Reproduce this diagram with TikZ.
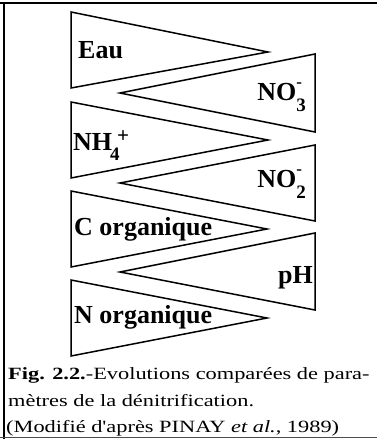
\documentclass[tikz,border=0pt]{standalone}
\usepackage{fontspec}
\setmainfont{Liberation Serif}
\newfontfamily\capfont[FakeStretch=1.3]{Liberation Serif}
\newcommand\fs[1]{\fontsize{#1}{#1}\selectfont}
\newcommand\subsup[4]{\makebox[0pt][l]{\raisebox{#4}{#2}}\raisebox{#3}{#1}}
\tikzset{
  tri/.style={draw=black, line width=1.5pt, line join=miter},
  lbl/.style={inner sep=0pt, font=\fs{26}\bfseries},
  captxt/.style={inner sep=0pt, font=\capfont\fs{17.2}},
  frameline/.style={draw=black, line width=1.8pt}
}
\begin{document}
\begin{tikzpicture}[x=1pt,y=-1pt]
\useasboundingbox (0,0) rectangle (377,439);
% frame
\draw[frameline] (0,3) -- (377,3);
\draw[frameline, line width=1.4pt] (4,3) -- (4,439);
\draw[draw=black!70, line width=1pt] (0,437.5) -- (377,437.5);
% triangles pointing right
\draw[tri] (71,12) -- (268,52) -- (71,88) -- cycle;
\draw[tri] (71,102) -- (268,140) -- (71,178) -- cycle;
\draw[tri] (71,191) -- (267,229) -- (71,267) -- cycle;
\draw[tri] (71,280) -- (267,318) -- (71,356) -- cycle;
% triangles pointing left
\draw[tri] (315,54) -- (120,93) -- (315,132) -- cycle;
\draw[tri] (315,145) -- (120,183) -- (315,221) -- cycle;
\draw[tri] (315,233) -- (120,272) -- (315,310) -- cycle;
% labels
\node[lbl, anchor=base west] (eau) at (78,58) {Eau};
\node[lbl, anchor=base east] (no3) at (306,100) {NO\subsup{\fs{19}3}{\fs{17}-}{-11pt}{13pt}\hspace{2pt}};
\node[lbl, anchor=base west] (nh4) at (73,150) {NH\kern-2pt\subsup{\fs{19}4}{\kern7pt\fs{21}+}{-10pt}{8pt}};
\node[lbl, anchor=base east] (no2) at (306,187) {NO\subsup{\fs{19}2}{\fs{17}-}{-11pt}{13pt}\hspace{2pt}};
\node[lbl, anchor=base west] (corg) at (74,235) {C organique};
\node[lbl, anchor=base east] (ph) at (313,283) {pH};
\node[lbl, anchor=base west] (norg) at (74,323) {N organique};
% caption
\node[captxt, anchor=base west] (c1) at (8,379) {\textbf{Fig. 2.2.}-Evolutions comparées de para-};
\node[captxt, anchor=base west] (c2) at (8,406) {mètres de la dénitrification.};
\node[captxt, anchor=base west] (c3) at (6,432) {(Modifié d'après PINAY \textit{et al.}, 1989)};
\end{tikzpicture}
\end{document}
